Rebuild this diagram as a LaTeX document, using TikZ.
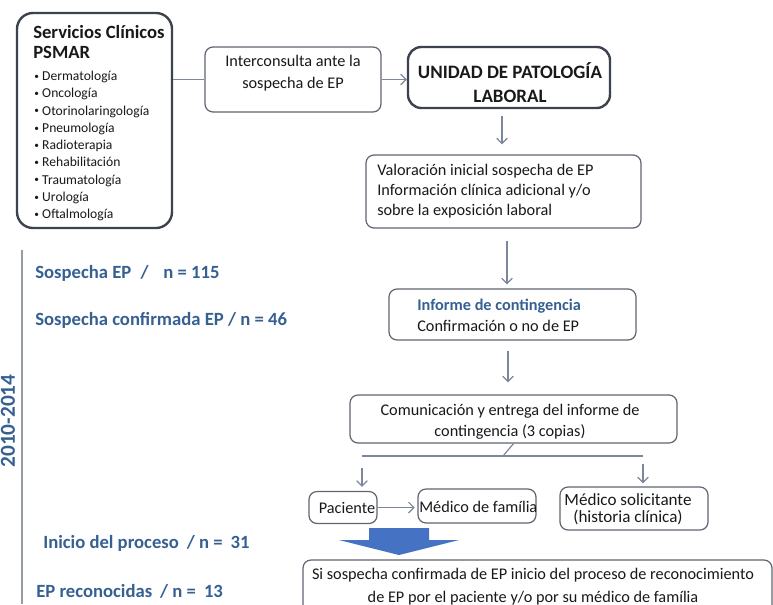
\documentclass[tikz,border=0pt]{standalone}
\usepackage{fontspec}
\setmainfont{Carlito}
\usetikzlibrary{arrows.meta,calc}
\definecolor{boxc}{RGB}{95,100,112}
\definecolor{boxd}{RGB}{60,66,78}
\definecolor{arrc}{RGB}{125,135,155}
\definecolor{bluet}{RGB}{54,96,146}
\definecolor{blockb}{RGB}{70,114,196}
\definecolor{txt}{RGB}{25,25,25}
\definecolor{linec}{RGB}{150,156,166}
\newcommand\bul{{\fontsize{7}{7}\selectfont\raisebox{0.9pt}{•}}\hspace{2.5pt}}
\begin{document}
\begin{tikzpicture}[x=0.75pt,y=-0.75pt,
  wh/.style 2 args={minimum width=#1*0.75pt, minimum height=#2*0.75pt},
  box/.style={draw=boxc, line width=0.9pt, rounded corners=6pt, fill=white, inner sep=0pt},
  bigbox/.style={draw=boxd, line width=1.8pt, rounded corners=10pt, fill=white, inner sep=0pt},
  conn/.style={draw=arrc, line width=0.9pt},
  arr/.style={conn, -{Straight Barb[length=4pt,width=8pt]}},
  body/.style={font=\fontsize{12.2}{15.75}\selectfont, text=txt, inner sep=0pt},
  lbl/.style={font=\fontsize{14}{16}\selectfont\bfseries, text=bluet, inner sep=0pt, anchor=west},
]
\useasboundingbox (0,0) rectangle (773,604);

% boxes
\node[bigbox, wh={155}{215}, rounded corners=12pt] (serv) at (94.5,120.5) {};
\node[box, wh={176}{65}] (interc) at (293,79.5) {};
\node[bigbox, wh={202}{61}] (unidad) at (509,77.5) {};
\node[box, wh={275}{73}] (val) at (503.5,191.5) {};
\node[box, wh={247}{51}] (inf) at (512.5,314.5) {};
\node[box, wh={327}{48}] (com) at (513.5,419) {};
\node[box, wh={68}{32}] (pac) at (343,507.5) {};
\node[box, wh={118}{34}] (medf) at (477,506) {};
\node[box, wh={148}{43}] (meds) at (634,508.5) {};
\begin{scope}
\clip (0,0) rectangle (773,604);
\node[box, wh={469}{70}] (fin) at (537.5,595) {};
\end{scope}

% texts
\node[anchor=west, align=left, inner sep=0pt, text=txt, font=\fontsize{14}{15}\selectfont\bfseries] (servt) at (33,42) {Servicios Clínicos\\PSMAR};
\node[anchor=west, align=left, inner sep=0pt, text=txt, font=\fontsize{10.2}{12.94}\selectfont] (servl) at (34,146)
 {\bul Dermatología\\\bul Oncología\\\bul Otorinolaringología\\\bul Pneumología\\\bul Radioterapia\\\bul Rehabilitación\\\bul Traumatología\\\bul Urología\\\bul Oftalmología};
\node[body, align=center, font=\fontsize{12.2}{16.5}\selectfont] (interct) at (293,73) {Interconsulta ante la\\sospecha de EP};
\node[inner sep=0pt, align=center, text=txt, font=\fontsize{14.2}{18}\selectfont\bfseries] (unidadt) at (510,83) {UNIDAD DE PATOLOGÍA\\LABORAL};
\node[body, anchor=west, align=left, font=\fontsize{12.2}{15.2}\selectfont] (valt) at (377,191)
 {Valoración inicial sospecha de EP\\Información clínica adicional y/o\\sobre la exposición laboral};
\node[body, anchor=west, align=left] (inft) at (417,315.5)
 {\textcolor{bluet}{\bfseries Informe de contingencia}\\Confirmación o no de EP};
\node[body, align=center] (comt) at (510,421.5) {Comunicación y entrega del informe de\\contingencia (3 copias)};
\node[body] (pact) at (347,508) {Paciente};
\node[body, anchor=west] (medft) at (419,507) {Médico de família};
\node[body, align=center, font=\fontsize{12.8}{12.75}\selectfont] (medst) at (628,509) {Médico solicitante\\(historia clínica)};
\node[body, align=center, font=\fontsize{12.2}{17.25}\selectfont] (fint) at (533,586.5)
 {Si sospecha confirmada de EP inicio del proceso de reconocimiento\\de EP por el paciente y/o por su médico de família};

% left labels
\draw[draw=linec, line width=1.1pt] (22,250) coordinate (vt) -- (22,604) coordinate (vb);
\node[rotate=90, inner sep=0pt, text=bluet, font=\fontsize{16}{18}\selectfont\bfseries] (year) at (8,421) {2010-2014};
\node[lbl] (l1) at (35,273) {Sospecha EP\hspace{7pt}/\hspace{11pt}n = 115};
\node[lbl] (l2) at (35,320) {Sospecha confirmada EP / n = 46};
\node[lbl] (l3) at (43,543) {Inicio del proceso\hspace{6pt}/ n =\hspace{6pt}31};
\node[lbl] (l4) at (36,591) {EP reconocidas\hspace{6pt}/ n =\hspace{6pt}13};

% connectors
\coordinate (a1) at (502,0);
\coordinate (a2) at (507,0);
\coordinate (a3) at (508,0);
\coordinate (sp) at (503,456);
\coordinate (spl) at (362,456);
\coordinate (spr) at (643,456);
\draw[conn] (serv.east |- interc.west) -- (interc.west);
\draw[arr] (interc.east) -- (interc.east -| unidad.west);
\draw[arr, shorten <=5pt, shorten >=7.5pt] (unidad.south -| a1) -- (val.north -| a1);
\draw[arr, shorten <=9pt, shorten >=3pt] (val.south -| a2) -- (inf.north -| a2);
\draw[arr, shorten <=7.5pt, shorten >=9pt] (inf.south -| a3) -- (com.north -| a3);
\draw[conn] (com.south) -- (sp);
\draw[conn] (spl) -- (spr);
\draw[arr, shorten <=9pt, shorten >=3pt] (spl) -- (pac.north -| spl);
\draw[arr, shorten <=6pt, shorten >=2.25pt] (spr) -- (meds.north -| spr);
\draw[arr, shorten >=2pt] (pac.east) -- (pac.east -| medf.west);

% block arrow
\fill[blockb] (369,528) -- (429,528) -- (429,540) -- (459,540) -- (399,555) -- (339,540) -- (369,540) -- cycle;
\end{tikzpicture}
\end{document}
